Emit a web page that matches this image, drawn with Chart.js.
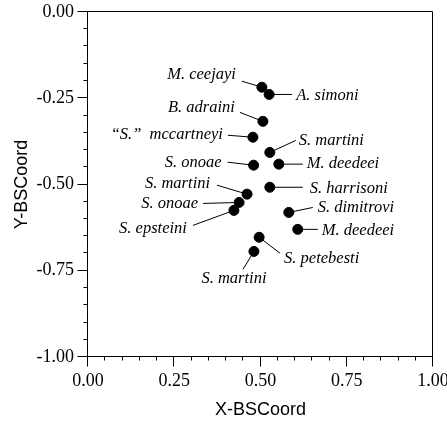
<!DOCTYPE html>
<html lang="en">
<head>
    <meta charset="UTF-8">
    <title>BSCoord scatter</title>
    <style>
        body {
            margin: 0;
            background-color: #fff;
        }
        canvas {
            display: block;
        }
    </style>
    <script src="https://cdn.jsdelivr.net/npm/chart.js"></script>
</head>
<body>
<canvas id="bsChart" width="447" height="423"></canvas>
<script>
    // species names and their coordinates
    const speciesNames = [
        'M. ceejayi', 'A. simoni', 'B. adraini', '\u201CS.\u201D  mccartneyi', 'S. martini',
        'S. onoae', 'M. deedeei', 'S. martini', 'S. harrisoni', 'S. onoae',
        'S. epsteini', 'S. dimitrovi', 'M. deedeei', 'S. petebesti', 'S. martini'
    ];
    const xCoords = [0.504, 0.525, 0.507, 0.478, 0.527, 0.480, 0.553, 0.461, 0.527, 0.438, 0.423, 0.582, 0.608, 0.496, 0.481];
    const yCoords = [-0.218, -0.239, -0.317, -0.363, -0.407, -0.444, -0.441, -0.528, -0.508, -0.552, -0.575, -0.581, -0.630, -0.653, -0.694];
    const tickValues = [0, 0.25, 0.5, 0.75, 1];

    // where each name sits relative to its dot (pixels): text anchor, alignment, leader end
    const labelLayout = [
        {dx: -26, dy: -13, align: 'right', lx: -20, ly: -6},
        {dx: 27, dy: 1, align: 'left', lx: 23, ly: 0},
        {dx: -28, dy: -14, align: 'right', lx: -23, ly: -9},
        {dx: -30, dy: -3, align: 'right', lx: -25, ly: -2},
        {dx: 29, dy: -12, align: 'left', lx: 26, ly: -12},
        {dx: -32, dy: -3, align: 'right', lx: -26, ly: -3},
        {dx: 28, dy: 0, align: 'left', lx: 24, ly: 0},
        {dx: -37, dy: -11, align: 'right', lx: -30, ly: -9},
        {dx: 40, dy: 1, align: 'left', lx: 33, ly: 0},
        {dx: -41, dy: 1, align: 'right', lx: -36, ly: 1},
        {dx: -47, dy: 18, align: 'right', lx: -41, ly: 15},
        {dx: 29, dy: -5, align: 'left', lx: 24, ly: -5},
        {dx: 24, dy: 1, align: 'left', lx: 20, ly: 0},
        {dx: 25, dy: 21, align: 'left', lx: 21, ly: 16},
        {dx: -20, dy: 27, align: 'center', lx: -11, ly: 18}
    ];

    const points = xCoords.map((x, i) => ({x: x, y: yCoords[i]}));

    const frameAndLabels = {
        id: 'frameAndLabels',
        beforeDatasetsDraw(chart) {
            const ctx = chart.ctx;
            const meta = chart.getDatasetMeta(0);
            ctx.save();
            ctx.strokeStyle = '#000';
            ctx.lineWidth = 1;
            meta.data.forEach((pt, i) => {
                const l = labelLayout[i];
                ctx.beginPath();
                ctx.moveTo(pt.x + l.lx, pt.y + l.ly);
                ctx.lineTo(pt.x, pt.y);
                ctx.stroke();
            });
            ctx.restore();
        },
        afterDatasetsDraw(chart) {
            const ctx = chart.ctx;
            const meta = chart.getDatasetMeta(0);
            ctx.save();
            ctx.fillStyle = '#000';
            ctx.font = 'italic 16.5px "Liberation Serif", "DejaVu Serif", serif';
            ctx.textBaseline = 'middle';
            meta.data.forEach((pt, i) => {
                const l = labelLayout[i];
                ctx.textAlign = l.align;
                ctx.fillText(speciesNames[i], pt.x + l.dx, pt.y + l.dy);
            });
            ctx.restore();
        },
        afterDraw(chart) {
            const ctx = chart.ctx;
            const area = chart.chartArea;
            const xs = chart.scales.x;
            const ys = chart.scales.y;
            const left = Math.round(area.left) - 0.5;
            const right = Math.round(area.right) - 0.5;
            const top = Math.round(area.top) - 0.5;
            const bottom = Math.round(area.bottom) - 0.5;
            ctx.save();
            ctx.strokeStyle = '#000';
            ctx.lineWidth = 1;
            ctx.beginPath();
            ctx.rect(left, top, right - left, bottom - top);
            ctx.stroke();
            // major and minor ticks every 0.05
            ctx.beginPath();
            for (let i = 0; i <= 20; i++) {
                const len = i % 5 === 0 ? 10 : 4;
                const px = Math.round(xs.getPixelForValue(i / 20)) - 0.5;
                ctx.moveTo(px, bottom);
                ctx.lineTo(px, bottom + len);
                const py = Math.round(ys.getPixelForValue(-i / 20)) - 0.5;
                ctx.moveTo(left, py);
                ctx.lineTo(left - len, py);
            }
            ctx.stroke();
            ctx.restore();
        }
    };

    const tickFont = {family: '"Liberation Serif", "DejaVu Serif", serif', size: 18};
    const titleFont = {family: '"Liberation Sans", Arial, sans-serif', size: 18};

    new Chart(document.getElementById('bsChart'), {
        type: 'scatter',
        data: {
            datasets: [{
                data: points,
                backgroundColor: '#000',
                borderColor: '#000',
                pointRadius: 5,
                pointHoverRadius: 5
            }]
        },
        options: {
            responsive: false,
            animation: false,
            layout: {
                padding: {top: 12, right: 14, left: 0, bottom: 0}
            },
            plugins: {
                legend: {display: false},
                tooltip: {enabled: false}
            },
            scales: {
                x: {
                    type: 'linear',
                    min: 0,
                    max: 1,
                    afterBuildTicks: (scale) => {
                        scale.ticks = tickValues.map(v => ({value: v}));
                    },
                    afterFit: (scale) => {
                        scale.height = 66;
                        // let "1.00" hang over the right margin
                        scale.paddingRight = 0;
                    },
                    // tick marks are drawn by the plugin; tickLength only spaces the labels
                    grid: {display: false, drawTicks: true, tickLength: 13},
                    border: {display: false},
                    ticks: {
                        color: '#000',
                        font: tickFont,
                        padding: 0,
                        maxRotation: 0,
                        callback: (v) => Number(v).toFixed(2)
                    },
                    title: {
                        display: true,
                        text: 'X-BSCoord',
                        color: '#000',
                        font: titleFont,
                        padding: {top: 0, bottom: 2}
                    }
                },
                y: {
                    type: 'linear',
                    min: -1,
                    max: 0,
                    afterBuildTicks: (scale) => {
                        scale.ticks = tickValues.map(v => ({value: -v}));
                    },
                    afterFit: (scale) => {
                        scale.width = 88;
                    },
                    grid: {display: false, drawTicks: true, tickLength: 14},
                    border: {display: false},
                    ticks: {
                        color: '#000',
                        font: tickFont,
                        padding: 0,
                        callback: (v) => Number(v).toFixed(2)
                    },
                    title: {
                        display: true,
                        text: 'Y-BSCoord',
                        color: '#000',
                        font: titleFont,
                        padding: {top: 11, bottom: 0}
                    }
                }
            }
        },
        plugins: [frameAndLabels]
    });
</script>
</body>
</html>
